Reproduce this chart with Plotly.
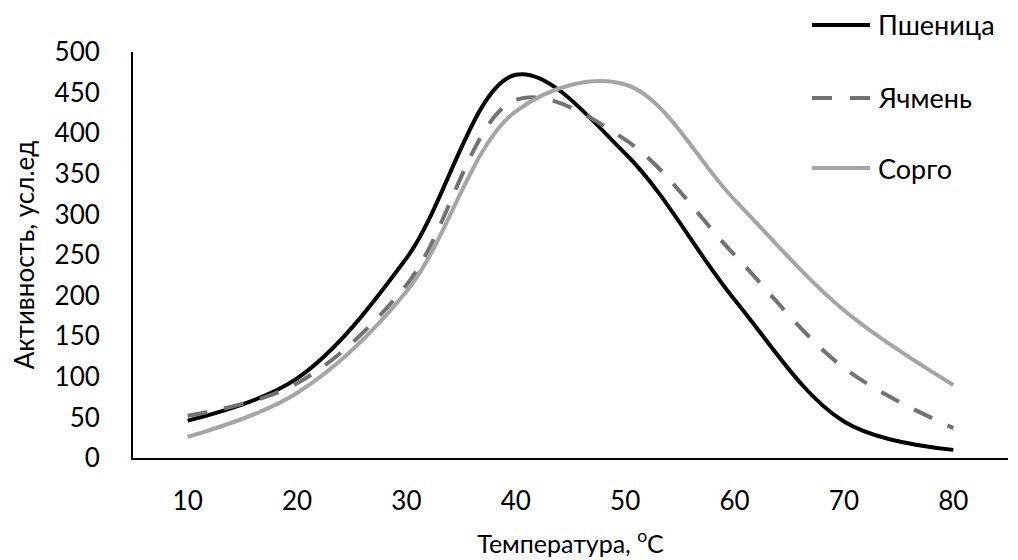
import plotly.graph_objects as go

temperature = [10, 20, 30, 40, 50, 60, 70, 80]
wheat = [46, 98, 246, 472, 375, 195, 45, 10]
barley = [52, 92, 213, 441, 392, 250, 111, 37]
sorghum = [26, 80, 205, 427, 460, 318, 182, 90]
series_names = ["Пшеница", "Ячмень", "Сорго"]
y_ticks = [0, 50, 100, 150, 200, 250, 300, 350, 400, 450, 500]
x_ticks = [10, 20, 30, 40, 50, 60, 70, 80]

FONT = "Lato"
OFF = 8  # default page body margin
W, H = 1018 - OFF, 560 - OFF
L, R, T, B = 133 - OFF, 10, 52 - OFF, 102

styles = [
    dict(color="#000000", width=4, dash="solid"),
    dict(color="#727272", width=4, dash="20px,17px"),
    dict(color="#a5a5a5", width=4, dash="solid"),
]

fig = go.Figure()
for name, vals, st in zip(series_names, [wheat, barley, sorghum], styles):
    fig.add_trace(go.Scatter(
        x=temperature, y=vals, name=name, mode="lines",
        line=dict(color=st["color"], width=st["width"], dash=st["dash"],
                  shape="spline", smoothing=1.0),
        showlegend=False,
    ))

# manual legend (positions given in screen pixels)
pw = W - L - R
ph = H - T - B
def px2paper_x(px):
    return (px - OFF - L) / pw
def px2paper_y(py):
    return (H - B - (py - OFF)) / ph

legend_y = [25, 98, 168]
for name, st, ly in zip(series_names, styles, legend_y):
    yy = px2paper_y(ly)
    if st["dash"] == "solid":
        fig.add_shape(type="line", xref="paper", yref="paper",
                      x0=px2paper_x(812), x1=px2paper_x(870), y0=yy, y1=yy,
                      line=dict(color=st["color"], width=st["width"]))
    else:
        for a, b in [(812, 832), (850, 870)]:
            fig.add_shape(type="line", xref="paper", yref="paper",
                          x0=px2paper_x(a), x1=px2paper_x(b), y0=yy, y1=yy,
                          line=dict(color=st["color"], width=st["width"]))
    fig.add_annotation(xref="paper", yref="paper", x=px2paper_x(876), y=yy,
                       text=name, showarrow=False, xanchor="left", yanchor="middle",
                       font=dict(family=FONT, size=27, color="#000000"))

fig.update_layout(
    width=W, height=H,
    margin=dict(l=L, r=R, t=T, b=B, autoexpand=False),
    paper_bgcolor="white", plot_bgcolor="white",
    font=dict(family=FONT, size=26, color="#000000"),
    showlegend=False,
)
fig.update_xaxes(
    range=[5, 85], tickvals=x_ticks, ticktext=[str(v) for v in x_ticks],
    showgrid=False, zeroline=False, showline=True, linecolor="#000000", linewidth=2,
    ticks="outside", ticklen=19, tickcolor="rgba(0,0,0,0)", automargin=False,
    tickfont=dict(family=FONT, size=26),
    title=dict(text="Температура, <sup>o</sup>C", standoff=20,
               font=dict(family=FONT, size=25)),
)
fig.update_yaxes(
    range=[0, 500], tickvals=y_ticks,
    showgrid=False, zeroline=False, showline=True, linecolor="#000000", linewidth=2,
    ticks="outside", ticklen=26, tickcolor="rgba(0,0,0,0)", automargin=False,
    tickfont=dict(family=FONT, size=26),
    title=dict(text="Активность, усл.ед", standoff=19,
               font=dict(family=FONT, size=26)),
)

fig.write_html("out.html")
